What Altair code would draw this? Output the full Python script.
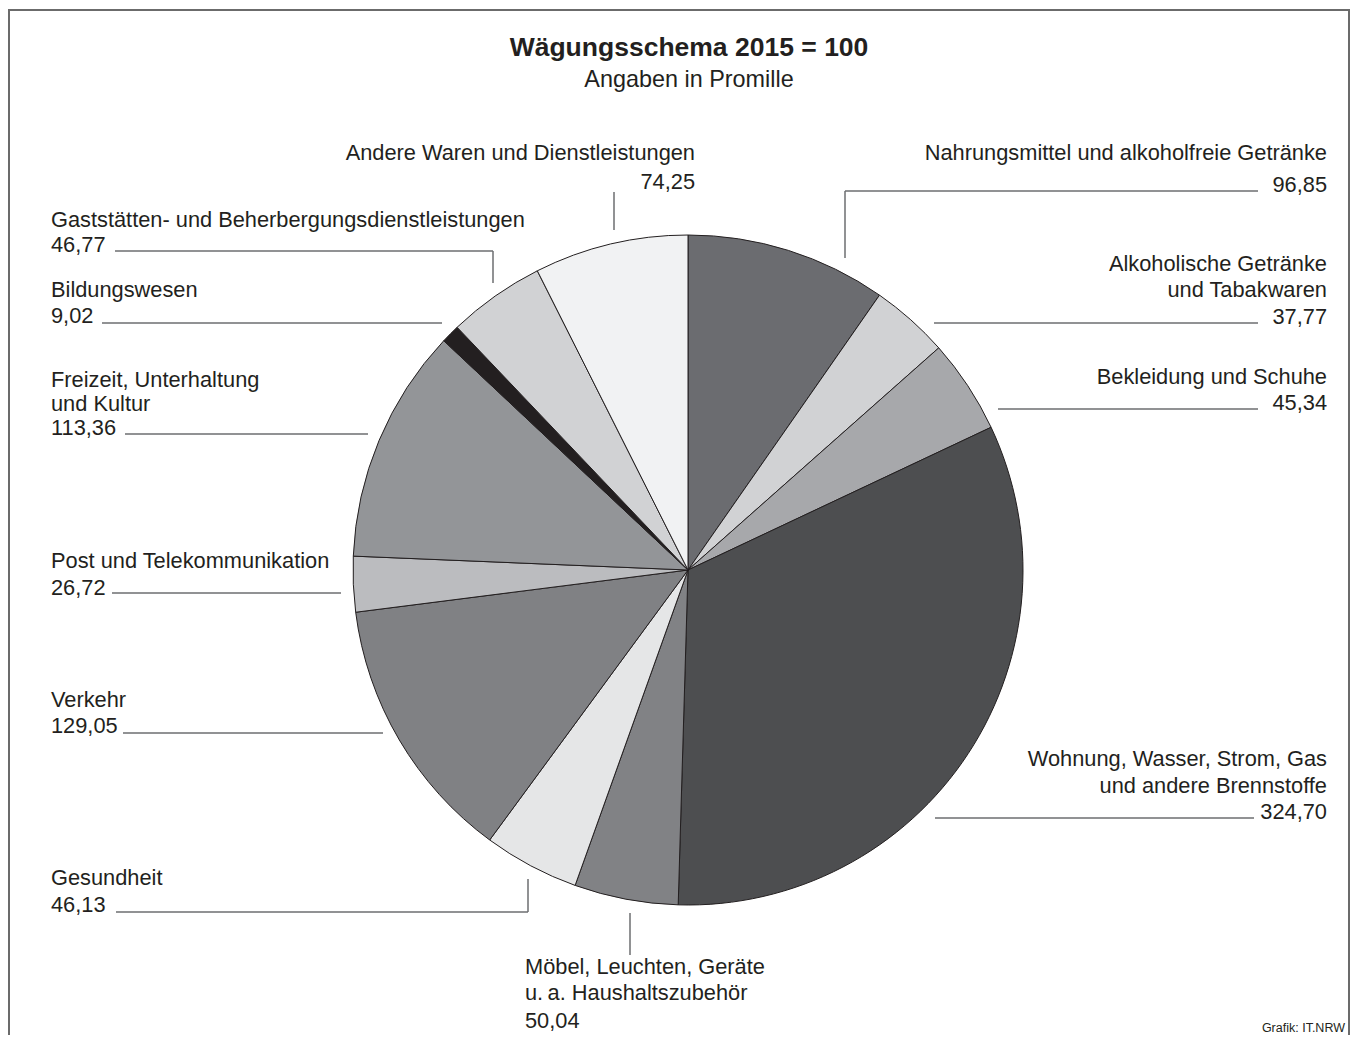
import altair as alt
import pandas as pd

# ---------------- data ----------------
categories = [
    "Nahrungsmittel und alkoholfreie Getränke",
    "Alkoholische Getränke und Tabakwaren",
    "Bekleidung und Schuhe",
    "Wohnung, Wasser, Strom, Gas und andere Brennstoffe",
    "Möbel, Leuchten, Geräte u. a. Haushaltszubehör",
    "Gesundheit",
    "Verkehr",
    "Post und Telekommunikation",
    "Freizeit, Unterhaltung und Kultur",
    "Bildungswesen",
    "Gaststätten- und Beherbergungsdienstleistungen",
    "Andere Waren und Dienstleistungen",
]
values = [96.85, 37.77, 45.34, 324.70, 50.04, 46.13, 129.05, 26.72, 113.36, 9.02, 46.77, 74.25]
colors = ["#6b6c70", "#d1d2d4", "#a7a8ab", "#4d4e50", "#818285", "#e5e6e7",
          "#808184", "#bbbcbf", "#939598", "#231f20", "#d1d2d4", "#f1f2f3"]
label_lines = [
    ["Nahrungsmittel und alkoholfreie Getränke"],
    ["Alkoholische Getränke", "und Tabakwaren"],
    ["Bekleidung und Schuhe"],
    ["Wohnung, Wasser, Strom, Gas", "und andere Brennstoffe"],
    ["Möbel, Leuchten, Geräte", "u.\u2009a. Haushaltszubehör"],
    ["Gesundheit"],
    ["Verkehr"],
    ["Post und Telekommunikation"],
    ["Freizeit, Unterhaltung", "und Kultur"],
    ["Bildungswesen"],
    ["Gaststätten- und Beherbergungsdienstleistungen"],
    ["Andere Waren und Dienstleistungen"],
]
title = "Wägungsschema 2015 = 100"
subtitle = "Angaben in Promille"
source = "Grafik: IT.NRW"

# ---------------- layout (page pixels) ----------------
W, H = 1342, 1027
OX, OY = 8, 8
CX, CY, R = 688, 570, 335
TXT = "#231f20"
LINE = "#6d6e71"
FONT = "Liberation Sans"
FS = 21.8

# label anchor x, alignment, baselines (one per text line + value line)
label_layout = [
    (1327, "right", [160, 192]),
    (1327, "right", [271, 297, 324]),
    (1327, "right", [384, 410]),
    (1327, "right", [766, 793, 819]),
    (525, "left", [974, 1000, 1028]),
    (51, "left", [885, 912]),
    (51, "left", [707, 733]),
    (51, "left", [568, 595]),
    (51, "left", [387, 411, 435]),
    (51, "left", [297, 323]),
    (51, "left", [227, 252]),
    (695, "right", [160, 189]),
]
# leader polylines
leaders = [
    [(1258, 191), (845, 191), (845, 258)],
    [(1258, 323), (934, 323)],
    [(1258, 409), (998, 409)],
    [(1254, 818), (935, 818)],
    [(630, 913), (630, 955)],
    [(116, 912), (528, 912), (528, 879)],
    [(123, 733), (383, 733)],
    [(112, 593), (341, 593)],
    [(125, 434), (368, 434)],
    [(102, 323), (442, 323)],
    [(115, 251), (493, 251), (493, 283)],
    [(614, 192), (614, 230)],
]

def fmt(v):
    return f"{v:.2f}".replace(".", ",")

# ---------------- tables ----------------
pie_df = pd.DataFrame({"cat": categories, "value": values, "idx": list(range(len(values)))})

rows = []
for cat, v, lines, (ax, al, bases) in zip(categories, values, label_lines, label_layout):
    for t, b in zip(lines + [fmt(v)], bases):
        rows.append({"text": t, "x": ax, "y": b, "align": al})
text_df = pd.DataFrame(rows)

segs = []
for pl in leaders:
    for (x1, y1), (x2, y2) in zip(pl[:-1], pl[1:]):
        segs.append({"x": x1, "y": y1, "x2": x2, "y2": y2})
seg_df = pd.DataFrame(segs)

frame_df = pd.DataFrame([
    {"x": 9, "y": 10, "x2": 9, "y2": 1035},
    {"x": 8, "y": 10, "x2": 1350, "y2": 10},
    {"x": 1349, "y": 10, "x2": 1349, "y2": 1035},
])

xs = alt.Scale(domain=[OX, OX + W], range=[0, W], nice=False, zero=False)
ys = alt.Scale(domain=[OY, OY + H], range=[0, H], nice=False, zero=False)
X = lambda f: alt.X(f, scale=xs, axis=None)
Y = lambda f: alt.Y(f, scale=ys, axis=None)

pie = alt.Chart(pie_df).mark_arc(radius=R, stroke=TXT, strokeWidth=1).encode(
    theta=alt.Theta("value:Q", stack=True),
    color=alt.Color("cat:N", scale=alt.Scale(domain=categories, range=colors), legend=None),
    order=alt.Order("idx:Q"),
    x=alt.value(CX - OX),
    y=alt.value(CY - OY),
)

lines = alt.Chart(seg_df).mark_rule(color=LINE, strokeWidth=1.5).encode(
    x=X("x:Q"), y=Y("y:Q"), x2="x2:Q", y2="y2:Q"
)

frame = alt.Chart(frame_df).mark_rule(color="#6b6b6b", strokeWidth=2).encode(
    x=X("x:Q"), y=Y("y:Q"), x2="x2:Q", y2="y2:Q"
)

def text_layer(al):
    return alt.Chart(text_df[text_df["align"] == al]).mark_text(
        align=al, baseline="alphabetic", font=FONT, fontSize=FS, color=TXT
    ).encode(x=X("x:Q"), y=Y("y:Q"), text="text:N")

head_df = pd.DataFrame([
    {"text": title, "x": 689, "y": 56, "kind": "t"},
    {"text": subtitle, "x": 689, "y": 87, "kind": "s"},
])
title_layer = alt.Chart(head_df[head_df.kind == "t"]).mark_text(
    align="center", baseline="alphabetic", font=FONT, fontSize=26.5, fontWeight="bold", color=TXT
).encode(x=X("x:Q"), y=Y("y:Q"), text="text:N")
sub_layer = alt.Chart(head_df[head_df.kind == "s"]).mark_text(
    align="center", baseline="alphabetic", font=FONT, fontSize=23.4, color=TXT
).encode(x=X("x:Q"), y=Y("y:Q"), text="text:N")

src_df = pd.DataFrame([{"text": source, "x": 1345, "y": 1032}])
src_layer = alt.Chart(src_df).mark_text(
    align="right", baseline="alphabetic", font=FONT, fontSize=12.5, color=TXT
).encode(x=X("x:Q"), y=Y("y:Q"), text="text:N")

chart = alt.layer(
    frame, lines, pie, text_layer("left"), text_layer("right"), title_layer, sub_layer, src_layer
).properties(
    width=W, height=H, autosize=alt.AutoSizeParams(type="none"), padding=0, background="white"
).configure_view(stroke=None)

chart.save("out.html", embed_options={"renderer": "svg", "actions": False})
